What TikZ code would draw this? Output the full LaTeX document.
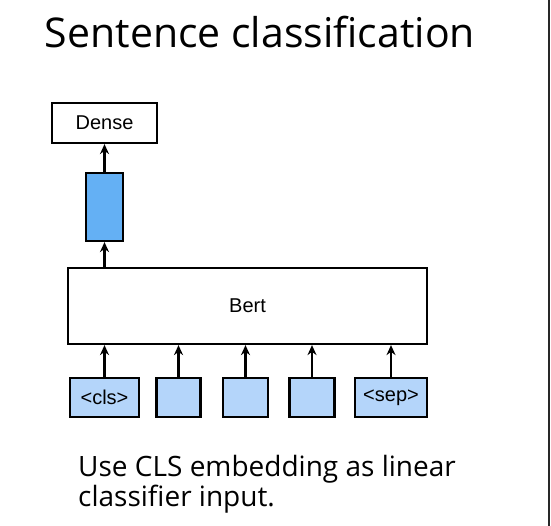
\documentclass[tikz,border=0pt]{standalone}
\usepackage{fontspec}
\setmainfont{Open Sans}
\newfontfamily\labelfont{Liberation Sans}
\usetikzlibrary{arrows.meta}
\definecolor{darkblue}{RGB}{100,176,244}
\definecolor{lightblue}{RGB}{180,213,250}
\definecolor{edgegray}{RGB}{40,40,40}
\begin{document}
\begin{tikzpicture}[x=1pt,y=-1pt,
  box/.style={draw=black,line width=2.2pt,inner sep=0pt,font=\labelfont\fontsize{20}{22}\selectfont},
  arr/.style={-{Stealth[length=10pt,width=9pt]},line width=2.2pt},
  token/.style={box,fill=lightblue,minimum height=39pt}]
\useasboundingbox (0,0) rectangle (551,526);
\node[anchor=base,inner sep=0pt] (title) at (260,48) {\fontsize{41}{46}\selectfont Sentence classification};
\node[box,minimum width=105pt,minimum height=40pt] (dense) at (104.5,123) {Dense};
\node[box,fill=darkblue,minimum width=37pt,minimum height=68pt] (cls-emb) at (104.5,207) {};
\node[box,minimum width=359pt,minimum height=76pt] (bert) at (247.5,306) {Bert};
\node[token,minimum width=69pt] (t1) at (104.5,397.5) {<cls>};
\node[token,minimum width=44pt] (t2) at (178.5,397.5) {};
\node[token,minimum width=45pt] (t3) at (245.5,397.5) {};
\node[token,minimum width=45pt] (t4) at (312,397.5) {};
\node[token,minimum width=72pt] (t5) at (391,397.5) {<sep>};
\draw[arr] (cls-emb.north) -- (dense.south);
\draw[arr] (cls-emb.south |- bert.north) -- (cls-emb.south);
\foreach \t in {t1,t2,t3,t4,t5}{
  \draw[arr] (\t.north) -- (\t.north |- bert.south);
}
\node[anchor=base west,inner sep=0pt,align=left,font=\fontsize{28}{27}\selectfont] (caption) at (78,506) {Use CLS embedding as linear\\classifier input.};
\draw[line width=1.5pt,edgegray] (549,0) -- (549,526);
\end{tikzpicture}
\end{document}
